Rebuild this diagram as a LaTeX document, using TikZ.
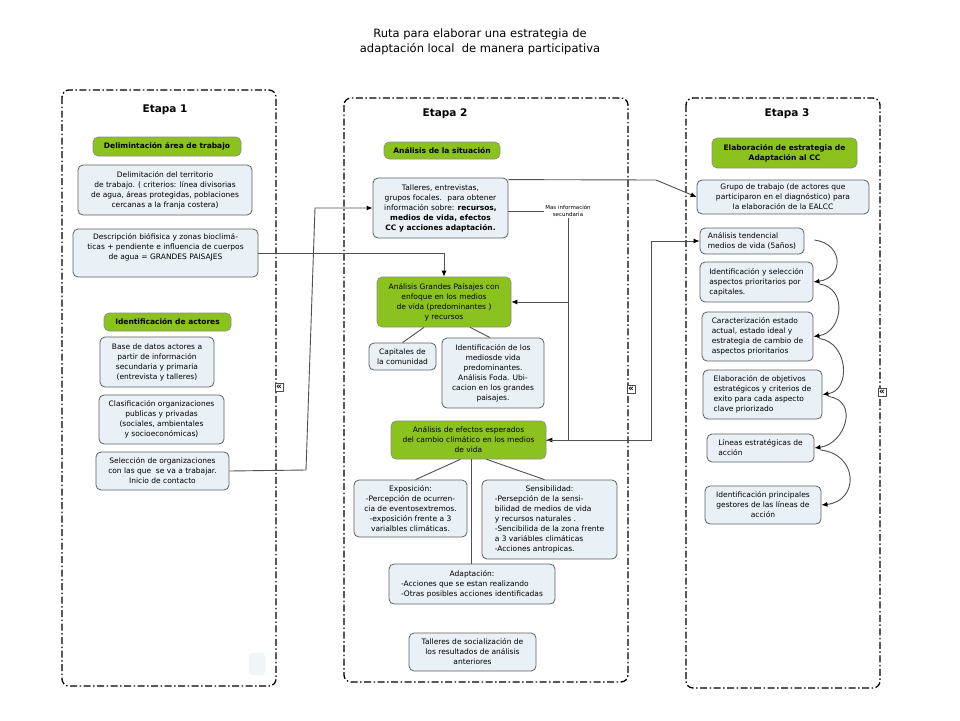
\documentclass[tikz,border=0pt]{standalone}
\usepackage{fontspec}
\setmainfont{DejaVu Sans}
\usetikzlibrary{arrows.meta,calc}
\definecolor{grn}{RGB}{140,194,30}
\definecolor{boxfill}{RGB}{233,241,246}
\definecolor{bord}{RGB}{95,95,95}
\definecolor{conncol}{RGB}{80,80,80}
\newcommand{\fsn}{\fontsize{7.5}{10}\selectfont}
\begin{document}
\begin{tikzpicture}[x=1pt,y=-1pt,
  box/.style={draw=bord, fill=boxfill, line width=0.8pt, rounded corners=5pt, align=center, font=\fsn, inner sep=2pt},
  boxl/.style={box, align=left},
  gbox/.style={draw=black!45, fill=grn, line width=0.6pt, rounded corners=5pt, align=center, font=\fsn\bfseries, inner sep=2pt},
  gboxn/.style={gbox, font=\fsn},
  etapa/.style={font=\fontsize{10.5}{12}\selectfont\bfseries},
  panel/.style={draw=black, line width=1.3pt, rounded corners=7pt, dash pattern=on 7pt off 2.5pt on 1.5pt off 2.5pt},
  conn/.style={draw=conncol, line width=0.9pt},
  arr/.style={conn, -{Latex[length=6pt,width=5pt,color=black]}},
  icon/.style={draw=black!70, fill=white, inner sep=0pt, minimum size=8.5pt, font=\fontsize{9}{9}\selectfont\bfseries},
  ]
\useasboundingbox (0,0) rectangle (960,720);
\fill[white] (0,0) rectangle (960,720);

\node[font=\fontsize{11.5}{15}\selectfont, align=center] (title) at (480,42) {Ruta para elaborar una estrategia de\\ adaptación local~ de manera participativa};

% panels
\draw[panel] (62,90) rectangle (276,686);
\draw[panel] (344,98) rectangle (628,682);
\draw[panel] (686,98) rectangle (880,688);
\node[icon] (i1) at (279,387) {\raisebox{0.5pt}{«}};
\node[icon] (i2) at (631,389) {\raisebox{0.5pt}{«}};
\node[icon] (i3) at (882,392) {\raisebox{0.5pt}{«}};
\node[fill=boxfill!70, rounded corners=3pt, minimum width=16pt, minimum height=22pt, inner sep=0pt] (sq) at (257,664) {};

% Etapa 1
\node[etapa] (e1) at (165,110) {Etapa 1};
\node[gbox, minimum width=148pt, minimum height=19pt] (g1) at (167,146.5) {Delimintación área de trabajo};
\node[box, minimum width=174pt, minimum height=50pt] (b1) at (165,190) {Delimitación del territorio\\ de trabajo. ( criterios: línea divisorias\\ de agua, áreas protegidas, poblaciones\\ cercanas a la franja costera)};
\node[box, minimum width=185pt, minimum height=48pt] (b2) at (165.5,253) {Descripción biófisica y zonas bioclimá-\\ticas + pendiente e influencia de cuerpos\\ de agua = GRANDES PAISAJES\\[4pt]};
\node[gbox, minimum width=127pt, minimum height=18pt] (g2) at (167.5,322) {Identificación de actores};
\node[box, minimum width=114pt, minimum height=50pt] (b3) at (157,362) {Base de datos actores a\\ partir de información\\ secundaria y primaria\\ (entrevista y talleres)};
\node[box, minimum width=125pt, minimum height=49pt] (b4) at (161.5,419.5) {Clasificación organizaciones\\ publicas y privadas\\ (sociales, ambientales\\ y socioeconómicas)};
\node[box, minimum width=133pt, minimum height=38pt] (b5) at (162.5,471) {Selección de organizaciones\\ con las que~ se va a trabajar.\\ Inicio de contacto};

% Etapa 2
\node[etapa] (e2) at (445,114) {Etapa 2};
\node[gbox, minimum width=116pt, minimum height=17pt] (g3) at (442,150.5) {Análisis de la situación};
\node[box, minimum width=135pt, minimum height=60pt] (b6) at (440.5,208) {Talleres, entrevistas,\\ grupos focales.~ para obtener\\ información sobre: \textbf{recursos,}\\ \textbf{medios de vida, efectos}\\ \textbf{CC y acciones adaptación.}};
\node[font=\fontsize{5.5}{6.5}\selectfont, align=center, inner sep=1pt] (mas) at (568,211) {Mas información\\secundaria};
\node[gboxn, minimum width=134pt, minimum height=50pt] (g4) at (444,302) {Análisis Grandes Paísajes con\\ enfoque en los medios\\ de vida (predominantes )\\ y recursos};
\node[box, minimum width=67pt, minimum height=27pt] (b7) at (402.5,356.5) {Capitales de\\ la comunidad};
\node[box, minimum width=102pt, minimum height=70pt] (b8) at (493,373) {Identificación de los\\ mediosde vida\\ predominantes.\\ Análisis Foda. Ubi-\\cacion en los grandes\\ paisajes.};
\node[gboxn, minimum width=155pt, minimum height=38pt] (g5) at (468.5,440) {Análisis de efectos esperados\\ del cambio climático en los medios\\ de vida};
\node[box, minimum width=113pt, minimum height=57pt] (b9) at (410.5,508.5) {Exposición:\\ -Percepción de ocurren-\\cia de eventosextremos.\\ -exposición frente a 3\\ varialbles climáticas.};
\node[box, minimum width=135pt, minimum height=79pt] (b10) at (549.5,519.5) {\begin{tabular}{@{}l@{}}\multicolumn{1}{@{}c@{}}{Sensibilidad:}\\ -Persepción de la sensi-\\bilidad de medios de vida\\ y recursos naturales .\\ -Sencibilida de la zona frente\\ a 3 variábles climáticas\\ -Acciones antropicas.\end{tabular}};
\node[box, minimum width=166pt, minimum height=40pt] (b11) at (472,584) {\begin{tabular}{@{}l@{}}\multicolumn{1}{@{}c@{}}{Adaptación:}\\ -Acciones que se estan realizando\\ -Otras posibles acciones identificadas\end{tabular}};
\node[box, minimum width=127pt, minimum height=38pt] (b12) at (472.5,652) {Talleres de socialización de\\ los resultados de análisis\\ anteriores};

% Etapa 3
\node[etapa] (e3) at (787,114) {Etapa 3};
\node[gbox, minimum width=145pt, minimum height=30pt] (g6) at (784.5,153) {Elaboración de estrategia de\\ Adaptación al CC};
\node[box, minimum width=172pt, minimum height=34pt] (b13) at (783,197) {Grupo de trabajo (de actores que\\ participaron en el diagnóstico) para\\ la elaboración de la EALCC};
\node[boxl, minimum width=104pt, minimum height=26pt] (b14) at (752,241) {Análisis tendencial\\ medios de vida (5años)};
\node[boxl, minimum width=113pt, minimum height=40pt] (b15) at (756.5,282) {Identificación y selección\\ aspectos prioritarios por\\ capitales.};
\node[boxl, minimum width=111pt, minimum height=49pt] (b16) at (757.5,336.5) {Caracterización estado\\ actual, estado ideal y\\ estrategia de cambio de\\ aspectos prioritarios};
\node[boxl, minimum width=119pt, minimum height=49pt] (b17) at (762.5,394.5) {Elaboración de objetivos\\ estratégicos y criterios de\\ exito para cada aspecto\\ clave priorizado};
\node[boxl, minimum width=107pt, minimum height=28pt] (b18) at (760.5,448) {Líneas estratégicas de\\ acción};
\node[box, minimum width=116pt, minimum height=38pt] (b19) at (763,505) {Identificación principales\\ gestores de las líneas de\\ acción};

% coordinates
\coordinate (k1) at (306,470);
\coordinate (k2) at (315,208);
\coordinate (k3) at (656,180);
\coordinate (k4) at (651,0);

% connectors
\draw[arr] (b2.east) -| (g4.north);
\draw[arr] (b5.east) -- (k1) -- (k2) -- (b6.west);
\draw[arr] ($(b6.north east)+(0,2)$) -- (k3) -- (b13.west);
\draw[conn] (b6.east |- mas.west) -- (mas.west);
\draw[arr] (mas.south) -- (mas.south |- g5.east) -- (g5.east);
\draw[arr] (mas.south |- g4.east) -- (g4.east);
\draw[arr] (g5.east) -- (g5.east -| k4) |- (b14.west);
\draw[conn] ($(g4.south)+(-20,0)$) -- (b7.north);
\draw[conn] ($(g4.south)+(26,0)$) -- ($(b8.north)+(-3,0)$);
\draw[conn] ($(g5.south)+(-8,0)$) -- ($(b9.north)+(5,0)$);
\draw[conn] ($(g5.south)+(2.5,0)$) -- ($(b11.north)+(-1,0)$);
\draw[conn] ($(g5.south)+(18,0)$) -- ($(b10.north)+(-5,0)$);

% curved arrows etapa 3
\draw[arr] ($(b14.east)+(10,-1)$) .. controls +(30,4) and +(30,-4) .. (b15.east);
\draw[arr] ($(b15.east)+(6,2)$) .. controls +(29,4) and +(29,-4) .. (b16.east);
\draw[arr] ($(b16.east)+(6,2)$) .. controls +(29,4) and +(29,-4) .. (b17.east);
\draw[arr] ($(b17.east)+(6,2)$) .. controls +(31,4) and +(31,-4) .. (b18.east);
\draw[arr] ($(b18.east)+(6,2)$) .. controls +(38,4) and +(38,-4) .. (b19.east);
\end{tikzpicture}
\end{document}
